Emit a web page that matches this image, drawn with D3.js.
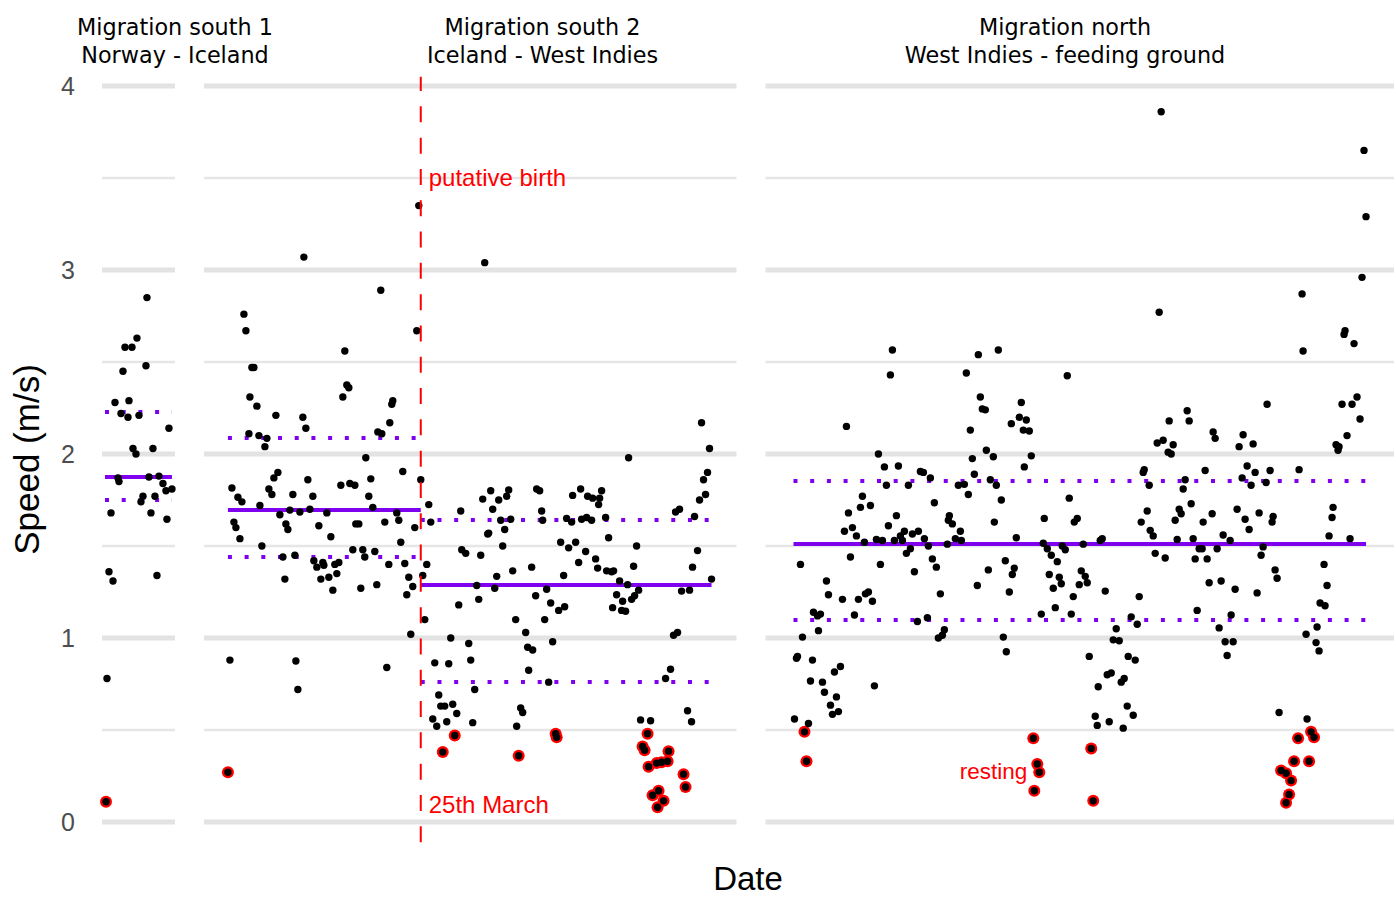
<!DOCTYPE html>
<html>
<head>
<meta charset="utf-8">
<script src="https://cdn.jsdelivr.net/npm/d3@7"></script>
<style>
  html, body { margin: 0; background: #fff; }
  svg { display: block; }
</style>
</head>
<body>
<svg id="chart" width="1396" height="898"></svg>
<script>
// Swimming speed per leg of the migration. x = hours since start of the leg,
// y = speed (m/s). Red-ringed points are resting periods.

const legNames = ['Migration south 1', 'Migration south 2', 'Migration north'];
const legRoutes = ['Norway - Iceland', 'Iceland - West Indies', 'West Indies - feeding ground'];
const legSpanHours = [73, 533, 629];

const leg1 = [[45,2.85],[35,2.63],[23,2.58],[30,2.58],[44,2.48],[21,2.45],[13,2.28],[27,2.29],[19,2.22],[26,2.20],
  [37,2.21],[67,2.14],[31,2.03],[34,2.00],[51,2.03],[16,1.87],[17,1.85],[47,1.875],[57,1.88],[61,1.84],[64,1.80],
  [70,1.81],[41,1.77],[39,1.74],[53,1.77],[9,1.68],[49,1.68],[65,1.645],[7,1.36],[11,1.31],[55,1.34],[5,0.78],[4,0.11]];
const leg1Rest = [[4,0.11]];

const leg2 = [[100,3.07],[177,2.89],[213,2.67],[215,3.35],[40,2.76],[42,2.67],[141,2.56],[48,2.47],[50,2.47],[143,2.375],
  [145,2.36],[139,2.31],[189,2.29],[188,2.27],[46,2.31],[53,2.26],[72,2.21],[99,2.20],[102,2.14],[186,2.17],[174,2.12],
  [178,2.11],[45,2.11],[55,2.10],[63,2.085],[61,2.04],[162,1.98],[199,1.905],[217,1.86],[74,1.90],[70,1.87],[104,1.86],
  [146,1.84],[151,1.83],[137,1.83],[167,1.865],[28,1.815],[34,1.765],[38,1.74],[65,1.81],[68,1.78],[89,1.78],[109,1.77],
  [56,1.72],[106,1.70],[76,1.67],[86,1.695],[96,1.685],[123,1.68],[169,1.71],[165,1.77],[193,1.68],[195,1.64],[30,1.63],
  [32,1.60],[36,1.54],[82,1.62],[84,1.59],[115,1.61],[152,1.62],[155,1.62],[181,1.63],[211,1.60],[127,1.55],[58,1.50],
  [149,1.48],[159,1.48],[171,1.47],[197,1.52],[79,1.44],[91,1.45],[110,1.42],[119,1.41],[120,1.395],[131,1.40],[135,1.41],
  [161,1.44],[185,1.40],[201,1.405],[113,1.385],[117,1.32],[125,1.33],[133,1.35],[81,1.32],[129,1.26],[157,1.27],[173,1.29],
  [205,1.33],[209,1.28],[203,1.235],[219,1.34],[207,1.02],[26,0.88],[92,0.875],[94,0.72],[183,0.84],[24,0.27],
  [281,3.04],[498,2.17],[506,2.03],[425,1.98],[504,1.90],[500,1.86],[502,1.78],[496,1.75],[491,1.66],[472,1.685],[476,1.70],
  [225,1.725],[227,1.63],[257,1.69],[279,1.755],[287,1.80],[295,1.75],[289,1.70],[303,1.77],[305,1.805],[333,1.81],[336,1.80],
  [338,1.69],[339,1.64],[297,1.64],[307,1.645],[301,1.59],[284,1.565],[285,1.57],[299,1.50],[258,1.48],[262,1.46],[277,1.45],
  [369,1.775],[377,1.81],[384,1.77],[389,1.76],[398,1.80],[396,1.76],[395,1.725],[363,1.65],[368,1.63],[378,1.645],[383,1.655],
  [388,1.64],[402,1.655],[405,1.545],[357,1.52],[365,1.49],[372,1.52],[382,1.47],[392,1.43],[375,1.41],[433,1.50],[494,1.475],
  [430,1.39],[489,1.385],[394,1.38],[403,1.365],[408,1.36],[410,1.365],[309,1.365],[328,1.385],[223,1.40],[273,1.285],
  [275,1.21],[291,1.27],[293,1.335],[312,1.10],[332,1.23],[343,1.265],[341,1.10],[347,1.19],[355,1.15],[361,1.17],[360,1.34],
  [416,1.31],[424,1.29],[413,1.235],[409,1.165],[418,1.15],[422,1.145],[419,1.20],[428,1.21],[431,1.23],[435,1.26],[478,1.255],
  [486,1.26],[508,1.32],[470,1.015],[474,1.03],[467,0.83],[462,0.78],[322,1.03],[324,0.95],[329,0.935],[325,0.825],[349,0.98],
  [345,0.76],[221,1.10],[231,0.865],[245,0.86],[247,1.00],[265,0.97],[267,0.88],[271,0.72],[235,0.69],[237,0.63],[241,0.63],
  [249,0.64],[229,0.56],[233,0.52],[243,0.545],[253,0.59],[269,0.54],[255,1.18],[317,0.62],[319,0.595],[313,0.52],[437,0.555],
  [447,0.55],[484,0.605],[488,0.545],
  [251,0.47],[239,0.38],[315,0.36],[352,0.48],[353,0.46],[444,0.48],[439,0.41],[441,0.39],[465,0.385],[445,0.30],[453,0.32],
  [458,0.325],[464,0.33],[480,0.26],[482,0.19],[449,0.145],[455,0.17],[460,0.115],[454,0.08]];
const leg2Rest = [[24,0.27],[251,0.47],[239,0.38],[315,0.36],[352,0.48],[353,0.46],[444,0.48],[439,0.41],[441,0.39],
  [465,0.385],[445,0.30],[453,0.32],[458,0.325],[464,0.33],[480,0.26],[482,0.19],[449,0.145],[455,0.17],[460,0.115],[454,0.08]];

const leg3 = [[396,3.86],[599,3.65],[601,3.29],[597,2.96],[537,2.87],[127,2.565],[125,2.43],[213,2.54],[233,2.565],[201,2.44],
  [302,2.425],[215,2.31],[217,2.245],[220,2.24],[256,2.28],[246,2.165],[254,2.20],[261,2.185],[258,2.13],[264,2.125],[205,2.13],
  [81,2.15],[113,2.00],[221,2.02],[228,1.985],[266,1.99],[259,1.93],[207,1.975],[209,1.89],[119,1.93],[133,1.935],[121,1.83],
  [143,1.83],[155,1.905],[158,1.90],[165,1.87],[193,1.83],[199,1.835],[203,1.78],[225,1.86],[231,1.83],[236,1.75],[169,1.735],
  [97,1.77],[95,1.71],[105,1.72],[83,1.68],[131,1.665],[123,1.61],[79,1.58],[87,1.60],[91,1.555],[99,1.52],[111,1.535],
  [117,1.53],[129,1.53],[135,1.555],[139,1.58],[137,1.53],[141,1.46],[145,1.485],[147,1.565],[153,1.58],[159,1.54],[163,1.50],
  [184,1.665],[183,1.64],[187,1.62],[195,1.58],[190,1.54],[196,1.53],[182,1.51],[229,1.63],[251,1.545],[279,1.65],[304,1.76],
  [309,1.63],[312,1.65],[278,1.515],[282,1.485],[286,1.45],[297,1.50],[300,1.48],[318,1.51],[35,1.40],[85,1.44],[115,1.40],
  [149,1.36],[167,1.43],[171,1.385],[175,1.24],[223,1.37],[240,1.42],[249,1.38],[247,1.345],[244,1.25],[212,1.285],[292,1.415],
  [284,1.345],[294,1.33],[296,1.295],[288,1.27],[290,1.165],[276,1.13],[308,1.225],[306,1.13],[316,1.365],[320,1.335],
  [322,1.30],[314,1.29],[61,1.31],[63,1.235],[77,1.21],[89,1.125],[93,1.21],[100,1.24],[103,1.25],[107,1.20],[48,1.14],
  [52,1.12],[55,1.13],[53,1.04],[37,1.005],[152,1.09],[162,1.11],[173,1.00],[177,1.015],[179,1.045],[238,1.005],[241,0.925],
  [324,0.90],[333,0.735],[31,0.89],[32,0.90],[47,0.88],[45,0.766],[57,0.76],[59,0.705],[71,0.68],[69,0.815],[75,0.845],
  [109,0.74],[65,0.635],[67,0.585],[73,0.60],[29,0.56],[43,0.535],[340,1.255],[342,0.80],[346,0.81],[330,0.575],[332,0.525],
  [344,0.545],[351,1.05],[348,0.99],[354,0.985],[356,0.76],[359,0.78],[394,2.77],[538,2.56],[580,2.67],[579,2.65],[589,2.60],
  [577,2.27],[587,2.27],[592,2.31],[595,2.19],[582,2.10],[571,2.05],[573,2.02],[574,2.04],[502,2.27],[422,2.235],[424,2.18],
  [404,2.18],[392,2.06],[398,2.075],[408,2.05],[403,2.01],[406,2.00],[448,2.12],[450,2.085],[478,2.105],[474,2.04],[488,2.055],
  [378,1.90],[379,1.915],[384,1.83],[440,1.91],[482,1.935],[490,1.90],[477,1.87],[486,1.83],[501,1.845],[505,1.91],[534,1.915],
  [420,1.86],[418,1.81],[426,1.73],[414,1.70],[416,1.675],[410,1.64],[447,1.675],[438,1.63],[472,1.70],[480,1.645],[484,1.59],
  [494,1.68],[508,1.66],[507,1.63],[382,1.69],[376,1.63],[385,1.585],[388,1.555],[568,1.71],[567,1.655],[564,1.555],[585,1.54],
  [337,1.54],[335,1.53],[412,1.535],[428,1.54],[434,1.485],[437,1.485],[458,1.56],[465,1.53],[452,1.485],[430,1.43],[442,1.43],
  [390,1.46],[400,1.435],[498,1.495],[496,1.45],[510,1.37],[512,1.325],[559,1.40],[562,1.285],[555,1.19],[560,1.175],
  [444,1.30],[456,1.31],[470,1.265],[492,1.245],[374,1.225],[432,1.15],[466,1.125],[454,1.055],[460,0.98],[468,0.98],
  [462,0.905],[366,1.115],[372,1.075],[363,0.90],[370,0.88],[541,1.02],[552,1.06],[551,0.975],[554,0.93],[362,0.63],
  [368,0.58],[358,0.51],[514,0.595],[542,0.56],
  [39,0.49],[41,0.33],[268,0.455],[272,0.315],[274,0.27],[269,0.17],[326,0.40],[328,0.115],[533,0.455],[546,0.49],
  [549,0.46],[529,0.33],[544,0.33],[516,0.28],[521,0.265],[526,0.225],[524,0.15],[521,0.105]];
const leg3Rest = [[39,0.49],[41,0.33],[268,0.455],[272,0.315],[274,0.27],[269,0.17],[326,0.40],[328,0.115],[533,0.455],
  [546,0.49],[549,0.46],[529,0.33],[544,0.33],[516,0.28],[521,0.265],[526,0.225],[524,0.15],[521,0.105]];

// mean speed (solid) and spread (dotted) per segment
const segLeg = [0, 1, 1, 2];
const segStart = [3, 24, 217, 28];
const segEnd = [70, 217, 508, 601];
const segMean = [1.875, 1.696, 1.288, 1.511];
const segLow = [1.75, 1.44, 0.761, 1.098];
const segHigh = [2.228, 2.087, 1.641, 1.853];

const birthLeg = 1;
const birthHour = 217;
const yTicks = [0, 1, 2, 3, 4];
const yMinor = [0.5, 1.5, 2.5, 3.5];

// ---- layout
const legs = [leg1, leg2, leg3];
const rests = [leg1Rest, leg2Rest, leg3Rest];
const SANS = '"Liberation Sans", Arial, sans-serif';
const HEAD = '"DejaVu Sans", Verdana, sans-serif';
const RED = '#ff0000';
const PURPLE = '#7f00ee';
const plotL = 102, plotR = 1394, gap = 29;

const svg = d3.select('#chart');
const y = d3.scaleLinear().domain([0, 4]).range([822, 86]);
const yTop = y(4.05), yBot = y(-0.11);

const k = (plotR - plotL - gap * (legSpanHours.length - 1)) / d3.sum(legSpanHours);
let cursor = plotL;
const xs = legSpanHours.map((span) => {
  const s = d3.scaleLinear().domain([0, span]).range([cursor, cursor + span * k]);
  cursor += span * k + gap;
  return s;
});

// gridlines
const grid = svg.append('g');
xs.forEach((x) => {
  const [a, b] = x.range();
  grid.append('g').selectAll('line').data(yMinor).join('line')
    .attr('x1', a).attr('x2', b).attr('y1', (d) => y(d)).attr('y2', (d) => y(d))
    .attr('stroke', '#e6e6e6').attr('stroke-width', 2.6);
  grid.append('g').selectAll('line').data(yTicks).join('line')
    .attr('x1', a).attr('x2', b).attr('y1', (d) => y(d)).attr('y2', (d) => y(d))
    .attr('stroke', '#e3e3e3').attr('stroke-width', 5);
});

// y tick labels
svg.append('g').selectAll('text').data(yTicks).join('text')
  .attr('x', 75).attr('y', (d) => y(d)).attr('dy', '0.36em')
  .attr('text-anchor', 'end')
  .style('font-family', SANS).style('font-size', '25px').style('fill', '#4d4d4d')
  .text((d) => d);

// means and spread
const meanG = svg.append('g');
segLeg.forEach((li, i) => {
  const x = xs[li];
  [segLow[i], segHigh[i]].forEach((v) => {
    meanG.append('line')
      .attr('x1', x(segStart[i])).attr('x2', x(segEnd[i])).attr('y1', y(v)).attr('y2', y(v))
      .attr('stroke', PURPLE).attr('stroke-width', 4).attr('stroke-dasharray', '4 12.7');
  });
  meanG.append('line')
    .attr('x1', x(segStart[i])).attr('x2', x(segEnd[i])).attr('y1', y(segMean[i])).attr('y2', y(segMean[i]))
    .attr('stroke', PURPLE).attr('stroke-width', 4);
});

// points: red halo for resting, black dot for every fix
legs.forEach((pts, li) => {
  const x = xs[li];
  svg.append('g').selectAll('circle').data(rests[li]).join('circle')
    .attr('cx', (d) => x(d[0])).attr('cy', (d) => y(d[1])).attr('r', 6)
    .attr('fill', RED);
  svg.append('g').selectAll('circle').data(pts).join('circle')
    .attr('cx', (d) => x(d[0])).attr('cy', (d) => y(d[1])).attr('r', 3.7)
    .attr('fill', '#000');
});

// putative birth
const bx = xs[birthLeg](birthHour);
svg.append('line')
  .attr('x1', bx).attr('x2', bx).attr('y1', yBot).attr('y2', yTop)
  .attr('stroke', RED).attr('stroke-width', 2).attr('stroke-dasharray', '16 15.3');
svg.append('text').attr('x', bx + 8).attr('y', y(3.457))
  .style('font-family', SANS).style('font-size', '24px').style('fill', RED)
  .text('putative birth');
svg.append('text').attr('x', bx + 8).attr('y', y(0.049))
  .style('font-family', SANS).style('font-size', '24px').style('fill', RED)
  .text('25th March');
svg.append('text').attr('x', xs[2](262)).attr('y', y(0.234))
  .attr('text-anchor', 'end')
  .style('font-family', SANS).style('font-size', '22.5px').style('fill', RED)
  .text('resting');

// leg headers
const headX = [175, 542.5, 1065];
legNames.forEach((name, i) => {
  const t = svg.append('text').attr('text-anchor', 'middle')
    .style('font-family', HEAD).style('font-size', '22.3px').style('fill', '#000');
  t.append('tspan').attr('x', headX[i]).attr('y', 35).text(name);
  t.append('tspan').attr('x', headX[i]).attr('y', 62.5).text(legRoutes[i]);
});

// axis titles
svg.append('text').attr('x', (plotL + plotR) / 2).attr('y', 890)
  .attr('text-anchor', 'middle')
  .style('font-family', SANS).style('font-size', '33px').style('fill', '#000')
  .text('Date');
svg.append('text').attr('transform', `translate(39,${(yTop + yBot) / 2}) rotate(-90)`)
  .attr('text-anchor', 'middle')
  .style('font-family', SANS).style('font-size', '35px').style('fill', '#000')
  .text('Speed (m/s)');
</script>
</body>
</html>
